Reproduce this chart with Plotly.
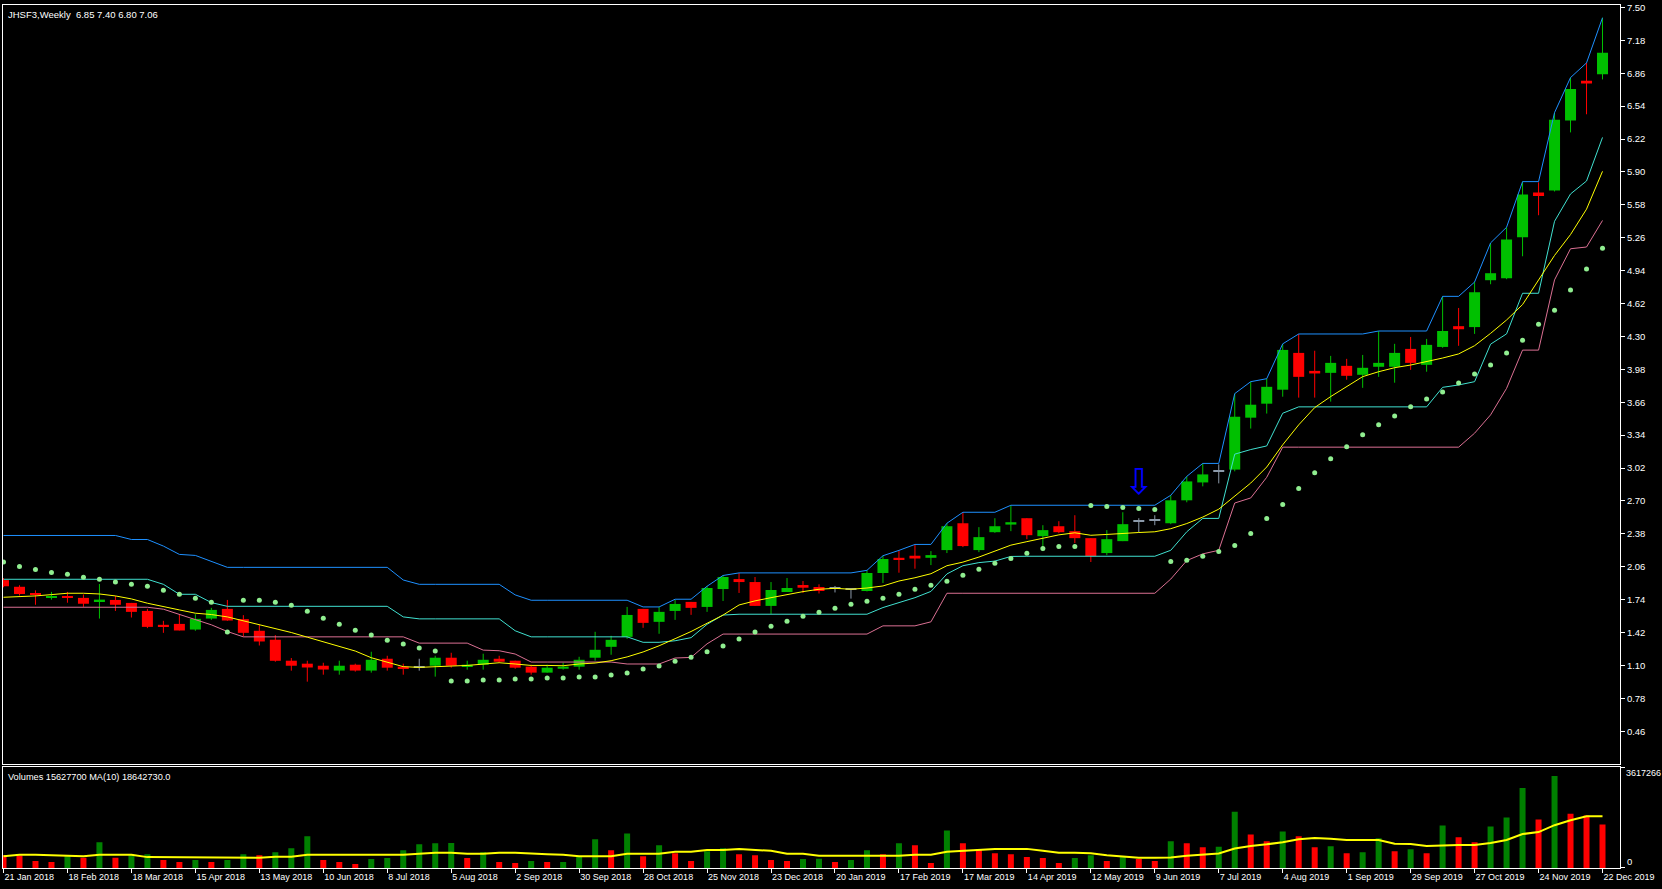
import plotly.graph_objects as go

# ---------------- data ----------------
symbol = "JHSF3"
period = "Weekly"

tick_dates = ["21 Jan 2018", "18 Feb 2018", "18 Mar 2018", "15 Apr 2018", "13 May 2018",
              "10 Jun 2018", "8 Jul 2018", "5 Aug 2018", "2 Sep 2018", "30 Sep 2018",
              "28 Oct 2018", "25 Nov 2018", "23 Dec 2018", "20 Jan 2019", "17 Feb 2019",
              "17 Mar 2019", "14 Apr 2019", "12 May 2019", "9 Jun 2019", "7 Jul 2019",
              "4 Aug 2019", "1 Sep 2019", "29 Sep 2019", "27 Oct 2019", "24 Nov 2019",
              "22 Dec 2019"]
bars_per_date_tick = 4

price_ticks = ["7.50", "7.18", "6.86", "6.54", "6.22", "5.90", "5.58", "5.26", "4.94", "4.62",
               "4.30", "3.98", "3.66", "3.34", "3.02", "2.70", "2.38", "2.06", "1.74", "1.42",
               "1.10", "0.78", "0.46"]

opens = [1.93, 1.865, 1.80, 1.76, 1.775, 1.757, 1.722, 1.737, 1.708, 1.63,
         1.495, 1.504, 1.449, 1.556, 1.65, 1.55, 1.437, 1.35, 1.146, 1.117,
         1.097, 1.05, 1.107, 1.05, 1.165, 1.088, 1.08, 1.097, 1.175, 1.09,
         1.107, 1.165, 1.146, 1.088, 1.03, 1.068, 1.088, 1.175, 1.281, 1.378,
         1.65, 1.524, 1.63, 1.718, 1.669, 1.843, 1.94, 1.911, 1.679, 1.814,
         1.882, 1.863, 1.844, 1.84, 1.824, 1.999, 2.147, 2.167, 2.147, 2.222,
         2.483, 2.222, 2.396, 2.47, 2.532, 2.357, 2.454, 2.406, 2.338, 2.193,
         2.309, 2.503, 2.513, 2.483, 2.706, 2.880, 2.988, 3.005, 3.510, 3.646,
         3.782, 4.14, 3.965, 3.946, 4.014, 3.927, 4.005, 4.005, 4.179, 4.024,
         4.198, 4.40, 4.391, 4.847, 4.866, 5.264, 5.70, 5.72, 6.401, 6.786,
         6.85]
highs = [1.95, 1.88, 1.83, 1.815, 1.815, 1.79, 1.892, 1.776, 1.708, 1.65,
         1.534, 1.598, 1.598, 1.66, 1.737, 1.589, 1.495, 1.395, 1.172, 1.146,
         1.126, 1.146, 1.117, 1.233, 1.194, 1.117, 1.165, 1.194, 1.223, 1.146,
         1.214, 1.194, 1.146, 1.107, 1.107, 1.126, 1.184, 1.427, 1.388, 1.669,
         1.65, 1.669, 1.737, 1.718, 1.873, 1.979, 1.999, 1.96, 1.911, 1.95,
         1.921, 1.889, 1.873, 1.84, 2.025, 2.167, 2.219, 2.277, 2.212, 2.483,
         2.59, 2.445, 2.532, 2.658, 2.532, 2.464, 2.503, 2.561, 2.338, 2.416,
         2.59, 2.532, 2.561, 2.755, 2.939, 3.065, 3.056, 3.744, 3.860, 3.889,
         4.228, 4.324, 4.161, 4.111, 4.082, 4.12, 4.353, 4.228, 4.295, 4.276,
         4.69, 4.577, 4.829, 5.207, 5.362, 5.806, 5.799, 6.477, 6.818, 6.961,
         7.40]
lows = [1.86, 1.78, 1.69, 1.74, 1.71, 1.67, 1.556, 1.63, 1.566, 1.463,
        1.417, 1.44, 1.437, 1.543, 1.534, 1.381, 1.294, 1.136, 1.049, 0.942,
        1.01, 1.01, 1.04, 1.03, 1.049, 1.01, 1.049, 0.991, 1.078, 1.059,
        1.059, 1.126, 1.068, 1.01, 1.03, 1.059, 1.059, 1.146, 1.204, 1.359,
        1.466, 1.408, 1.543, 1.592, 1.621, 1.727, 1.805, 1.679, 1.601, 1.814,
        1.805, 1.80, 1.81, 1.75, 1.82, 1.902, 2.002, 2.041, 2.076, 2.193,
        2.251, 2.202, 2.39, 2.406, 2.328, 2.212, 2.386, 2.290, 2.106, 2.173,
        2.309, 2.396, 2.464, 2.474, 2.687, 2.842, 2.871, 2.988, 3.404, 3.55,
        3.714, 3.705, 3.705, 3.666, 3.879, 3.80, 3.907, 3.85, 3.975, 3.957,
        4.19, 4.209, 4.325, 4.808, 4.857, 5.08, 5.479, 5.71, 6.285, 6.461,
        6.80]
closes = [1.87, 1.795, 1.79, 1.775, 1.757, 1.70, 1.740, 1.69, 1.621, 1.475,
          1.48, 1.44, 1.553, 1.64, 1.537, 1.417, 1.333, 1.145, 1.097, 1.08,
          1.06, 1.097, 1.05, 1.155, 1.078, 1.07, 1.08, 1.175, 1.097, 1.107,
          1.155, 1.136, 1.078, 1.03, 1.078, 1.088, 1.155, 1.252, 1.349, 1.591,
          1.514, 1.621, 1.698, 1.66, 1.853, 1.96, 1.911, 1.679, 1.834, 1.853,
          1.856, 1.824, 1.844, 1.84, 1.999, 2.135, 2.128, 2.14, 2.173, 2.454,
          2.261, 2.348, 2.454, 2.493, 2.367, 2.416, 2.396, 2.338, 2.163, 2.328,
          2.474, 2.503, 2.513, 2.706, 2.890, 2.958, 2.988, 3.519, 3.636, 3.81,
          4.169, 3.907, 3.94, 4.043, 3.917, 3.995, 4.043, 4.14, 4.043, 4.218,
          4.353, 4.37, 4.730, 4.915, 5.244, 5.681, 5.666, 6.408, 6.708, 6.76,
          7.06]

upper_band = [2.364, 2.364, 2.364, 2.364, 2.364, 2.364, 2.364, 2.364, 2.325, 2.325,
              2.261, 2.180, 2.170, 2.115, 2.054, 2.054, 2.054, 2.054, 2.054, 2.054,
              2.054, 2.054, 2.054, 2.054, 2.054, 1.931, 1.889, 1.889, 1.889, 1.889,
              1.889, 1.889, 1.786, 1.734, 1.734, 1.734, 1.734, 1.734, 1.734, 1.734,
              1.669, 1.669, 1.744, 1.744, 1.870, 1.975, 2.000, 2.000, 2.000, 2.000,
              2.000, 2.000, 2.000, 2.000, 2.025, 2.167, 2.219, 2.277, 2.277, 2.483,
              2.590, 2.590, 2.590, 2.658, 2.658, 2.658, 2.658, 2.658, 2.658, 2.658,
              2.658, 2.658, 2.658, 2.755, 2.939, 3.065, 3.065, 3.744, 3.860, 3.889,
              4.228, 4.324, 4.324, 4.324, 4.324, 4.324, 4.353, 4.353, 4.353, 4.353,
              4.690, 4.690, 4.829, 5.210, 5.362, 5.806, 5.806, 6.477, 6.818, 6.961,
              7.400]
middle_band = [1.938, 1.938, 1.938, 1.938, 1.938, 1.938, 1.938, 1.938, 1.938, 1.938,
               1.889, 1.792, 1.792, 1.711, 1.675, 1.675, 1.675, 1.675, 1.675, 1.675,
               1.675, 1.675, 1.675, 1.675, 1.675, 1.572, 1.553, 1.553, 1.553, 1.553,
               1.553, 1.553, 1.437, 1.378, 1.378, 1.378, 1.378, 1.378, 1.378, 1.378,
               1.325, 1.325, 1.340, 1.370, 1.500, 1.590, 1.598, 1.598, 1.598, 1.598,
               1.598, 1.598, 1.598, 1.598, 1.598, 1.663, 1.711, 1.759, 1.820, 1.990,
               2.070, 2.100, 2.115, 2.160, 2.162, 2.162, 2.162, 2.162, 2.162, 2.162,
               2.162, 2.162, 2.162, 2.220, 2.400, 2.530, 2.530, 3.155, 3.200, 3.235,
               3.553, 3.615, 3.615, 3.615, 3.615, 3.615, 3.615, 3.615, 3.615, 3.615,
               3.805, 3.828, 3.860, 4.225, 4.325, 4.720, 4.720, 5.420, 5.686, 5.812,
               6.236]
lower_band = [1.666, 1.666, 1.666, 1.666, 1.666, 1.666, 1.666, 1.666, 1.666, 1.666,
              1.647, 1.598, 1.550, 1.495, 1.430, 1.378, 1.378, 1.378, 1.378, 1.378,
              1.378, 1.378, 1.378, 1.378, 1.378, 1.378, 1.317, 1.317, 1.317, 1.317,
              1.249, 1.243, 1.211, 1.133, 1.133, 1.133, 1.133, 1.133, 1.133, 1.114,
              1.114, 1.114, 1.172, 1.178, 1.310, 1.405, 1.405, 1.405, 1.405, 1.405,
              1.405, 1.405, 1.405, 1.405, 1.405, 1.485, 1.485, 1.485, 1.524, 1.802,
              1.802, 1.802, 1.802, 1.802, 1.802, 1.802, 1.802, 1.802, 1.802, 1.802,
              1.802, 1.802, 1.802, 1.940, 2.120, 2.185, 2.220, 2.680, 2.729, 2.930,
              3.223, 3.223, 3.223, 3.223, 3.223, 3.223, 3.223, 3.223, 3.223, 3.223,
              3.223, 3.223, 3.359, 3.537, 3.795, 4.167, 4.167, 4.850, 5.153, 5.170,
              5.428]
moving_avg = [1.763, 1.766, 1.776, 1.789, 1.802, 1.802, 1.795, 1.776, 1.747, 1.705,
              1.669, 1.640, 1.608, 1.595, 1.572, 1.534, 1.492, 1.460, 1.420, 1.375,
              1.330, 1.285, 1.240, 1.175, 1.130, 1.088, 1.081, 1.091, 1.094, 1.100,
              1.110, 1.126, 1.114, 1.100, 1.100, 1.097, 1.114, 1.123, 1.146, 1.183,
              1.231, 1.291, 1.360, 1.430, 1.510, 1.590, 1.688, 1.728, 1.759, 1.792,
              1.818, 1.841, 1.850, 1.841, 1.853, 1.873, 1.921, 1.953, 1.992, 2.070,
              2.105, 2.154, 2.215, 2.270, 2.304, 2.340, 2.370, 2.390, 2.366, 2.374,
              2.386, 2.393, 2.400, 2.430, 2.480, 2.543, 2.620, 2.750, 2.874, 3.030,
              3.246, 3.440, 3.608, 3.715, 3.812, 3.909, 3.957, 3.996, 4.022, 4.054,
              4.090, 4.130, 4.210, 4.330, 4.460, 4.610, 4.846, 5.088, 5.291, 5.538,
              5.906]
psar = [2.105, 2.063, 2.034, 2.005, 1.986, 1.957, 1.938, 1.911, 1.889, 1.870,
        1.831, 1.792, 1.753, 1.714, 1.424, 1.734, 1.734, 1.714, 1.686, 1.627,
        1.560, 1.501, 1.443, 1.395, 1.346, 1.308, 1.269, 1.240, 0.949, 0.949,
        0.959, 0.959, 0.968, 0.968, 0.978, 0.978, 0.988, 0.988, 1.007, 1.027,
        1.065, 1.094, 1.140, 1.180, 1.232, 1.288, 1.356, 1.424, 1.482, 1.530,
        1.579, 1.618, 1.657, 1.695, 1.724, 1.753, 1.792, 1.841, 1.880, 1.918,
        1.977, 2.035, 2.093, 2.141, 2.190, 2.238, 2.258, 2.258, 2.655, 2.645,
        2.636, 2.626, 2.616, 2.112, 2.122, 2.161, 2.209, 2.267, 2.383, 2.529,
        2.665, 2.820, 2.975, 3.111, 3.227, 3.343, 3.440, 3.527, 3.615, 3.692,
        3.760, 3.847, 3.935, 4.022, 4.138, 4.264, 4.419, 4.555, 4.752, 4.955,
        5.159]

# volumes in millions of shares
volume_m = [4.6, 4.5, 2.49, 2.13, 4.26, 3.67, 9.24, 3.67, 4.62, 4.97,
            2.84, 2.13, 2.84, 2.13, 2.84, 4.97, 4.62, 5.68, 7.10, 11.37,
            2.84, 2.13, 1.42, 3.20, 3.55, 6.39, 8.52, 8.88, 8.95, 3.55,
            5.68, 2.13, 1.78, 2.49, 2.13, 2.20, 4.26, 10.30, 6.39, 12.43,
            4.26, 8.17, 5.33, 2.49, 6.04, 7.10, 4.97, 4.62, 2.84, 2.49,
            3.20, 3.30, 2.13, 2.84, 6.39, 4.97, 8.88, 8.17, 1.78, 13.50,
            8.88, 6.75, 5.33, 4.97, 3.91, 3.55, 1.78, 3.55, 4.62, 2.49,
            4.26, 3.20, 2.49, 9.59, 8.88, 7.46, 7.60, 20.25, 12.08, 9.59,
            13.14, 11.37, 7.46, 7.81, 5.33, 5.68, 10.66, 6.04, 6.75, 5.33,
            15.27, 11.01, 9.24, 14.92, 18.12, 28.77, 17.40, 33.03, 19.54, 18.83,
            15.6277]
volume_ma_m = [4.26, 4.74, 4.74, 4.60, 4.26, 4.26, 4.74, 4.74, 4.74, 3.91,
               3.91, 3.91, 3.91, 3.91, 3.91, 3.67, 3.67, 4.03, 4.03, 4.74,
               4.74, 4.74, 4.74, 4.74, 4.74, 4.74, 5.09, 5.45, 5.45, 5.09,
               5.09, 5.45, 5.45, 5.09, 4.90, 4.74, 4.26, 4.26, 4.26, 5.09,
               5.09, 5.09, 5.80, 5.80, 6.51, 6.51, 6.87, 6.51, 6.16, 5.09,
               5.09, 4.38, 4.38, 4.38, 4.38, 4.38, 4.38, 4.74, 4.74, 5.80,
               6.16, 6.51, 6.87, 6.87, 6.87, 6.16, 5.45, 5.45, 5.30, 4.62,
               4.03, 3.67, 3.67, 3.79, 4.38, 4.74, 5.21, 6.99, 7.93, 8.52,
               9.24, 10.30, 10.77, 10.54, 10.06, 10.06, 10.06, 8.76, 8.64, 7.93,
               8.17, 8.29, 8.29, 9.00, 10.06, 12.20, 12.91, 15.39, 17.17, 18.59,
               18.64273]
volume_ma_period = 10
volume_axis_top = 36172660
volume_axis_label = "3617266"

signal_bar = 71
signal_price = 2.89

# ---------------- styling ----------------
BULL = "#00C000"
BEAR = "#FF0000"
DOJI = "#8C9AAA"
VOL_UP = "#008000"
VOL_DOWN = "#FF0000"
FONT = "Liberation Sans"
TXT = 9.5
DATE_TXT = 9
VOL_TXT = 9.2

n = len(closes)
bars = list(range(n))

candle_color = []
for o, c in zip(opens, closes):
    candle_color.append(BULL if c > o else (BEAR if c < o else DOJI))
body_base = [min(o, c) for o, c in zip(opens, closes)]
body_len = [max(abs(c - o), 0.0097) for o, c in zip(opens, closes)]

vol = [v * 1e6 for v in volume_m]
vol_ma = [v * 1e6 for v in volume_ma_m]
vol_color = [VOL_DOWN if i == 0 or vol[i] <= vol[i - 1] else VOL_UP for i in bars]

fig = go.Figure()

# wicks
for col in (BULL, BEAR, DOJI):
    xs, ys = [], []
    for i in bars:
        if candle_color[i] == col:
            xs += [i, i, None]
            ys += [lows[i], highs[i], None]
    fig.add_trace(go.Scatter(x=xs, y=ys, mode="lines", line=dict(color=col, width=1),
                             hoverinfo="skip", xaxis="x", yaxis="y"))

# bodies
fig.add_trace(go.Bar(x=bars, y=body_len, base=body_base, width=0.6875,
                     marker=dict(color=candle_color, line=dict(width=0)),
                     hoverinfo="skip", xaxis="x", yaxis="y"))

# indicator lines
for series, col in ((upper_band, "#1E90FF"), (middle_band, "#40E0D0"),
                    (lower_band, "#DB7093"), (moving_avg, "#FFFF00")):
    fig.add_trace(go.Scatter(x=bars, y=series, mode="lines", line=dict(color=col, width=1),
                             hoverinfo="skip", xaxis="x", yaxis="y"))

# parabolic SAR
fig.add_trace(go.Scatter(x=bars, y=psar, mode="markers",
                         marker=dict(color="#90EE90", size=5, line=dict(width=0)),
                         hoverinfo="skip", xaxis="x", yaxis="y"))

# volume
fig.add_trace(go.Bar(x=bars, y=vol, width=0.375, marker=dict(color=vol_color, line=dict(width=0)),
                     hoverinfo="skip", xaxis="x2", yaxis="y2"))
fig.add_trace(go.Scatter(x=bars, y=vol_ma, mode="lines", line=dict(color="#FFFF00", width=2),
                         hoverinfo="skip", xaxis="x2", yaxis="y2"))

# ---------------- layout ----------------
W, H = 1662, 889
ml, mr, mt, mb = 2, 42, 2, 21
plot_h = H - mt - mb
main_bottom_px = 764
vol_top_px = 767
main_dom0 = (H - mb - main_bottom_px) / plot_h
vol_dom1 = (H - mb - vol_top_px) / plot_h

bar_px = 16.0
xmin = -0.03125
xmax = xmin + (W - ml - mr) / bar_px

axis_common = dict(showgrid=False, zeroline=False, showline=True, mirror=True,
                   linecolor="white", linewidth=1)

date_ticks = [k * bars_per_date_tick for k in range(len(tick_dates))]

fig.update_layout(
    width=W, height=H,
    margin=dict(l=ml, r=mr, t=mt, b=mb, pad=0),
    paper_bgcolor="black", plot_bgcolor="black",
    showlegend=False, barmode="overlay",
    font=dict(family=FONT, size=TXT, color="white"),
    xaxis=dict(domain=[0, 1], anchor="y", range=[xmin, xmax], showticklabels=False,
               ticks="", **axis_common),
    yaxis=dict(domain=[main_dom0, 1], anchor="x", range=[0.1377, 7.524], side="right",
               tickmode="array", tickvals=[float(t) for t in price_ticks], ticktext=price_ticks,
               ticks="outside", ticklen=4, tickcolor="white", tickwidth=1,
               ticklabeloverflow="allow",
               tickfont=dict(family=FONT, size=TXT, color="white"), **axis_common),
    xaxis2=dict(domain=[0, 1], anchor="y2", range=[xmin, xmax],
                tickmode="array", tickvals=date_ticks, ticktext=tick_dates,
                ticks="outside", ticklen=4, tickcolor="white", tickwidth=1,
                ticklabelposition="outside right", tickangle=0, ticklabeloverflow="allow",
                tickfont=dict(family=FONT, size=DATE_TXT, color="white"), **axis_common),
    yaxis2=dict(domain=[0, vol_dom1], anchor="x2", range=[0, volume_axis_top], side="right",
                tickmode="array", tickvals=[0, volume_axis_top], ticks="outside", ticklen=4,
                tickcolor="white", showticklabels=False, **axis_common),
)

title_txt = f"{symbol},{period}\u00a0\u00a0{opens[-1]:.2f} {highs[-1]:.2f} {lows[-1]:.2f} {closes[-1]:.2f}"
vol_txt = f"Volumes {round(vol[-1])} MA({volume_ma_period}) {round(vol_ma[-1], 1):.1f}"

annotations = [
    dict(text=title_txt, xref="paper", yref="paper", x=0, y=1, xanchor="left", yanchor="top",
         xshift=3, yshift=-2, showarrow=False, font=dict(family=FONT, size=TXT, color="white")),
    dict(text=vol_txt, xref="paper", yref="paper", x=0, y=vol_dom1, xanchor="left", yanchor="top",
         xshift=3, yshift=-3, showarrow=False, font=dict(family=FONT, size=VOL_TXT, color="white")),
    dict(text=volume_axis_label, xref="paper", yref="paper", x=1, y=vol_dom1, xanchor="left",
         yanchor="top", xshift=4, yshift=1, showarrow=False,
         font=dict(family=FONT, size=9, color="white")),
    dict(text="0", xref="paper", yref="paper", x=1, y=0, xanchor="left", yanchor="bottom",
         xshift=5, yshift=-1, showarrow=False, font=dict(family=FONT, size=TXT, color="white")),
    dict(text="\u21e9", xref="x", yref="y", x=signal_bar, y=signal_price, xanchor="center",
         yanchor="middle", showarrow=False, font=dict(family="DejaVu Sans", size=36, color="#0000FF")),
]
fig.update_layout(annotations=annotations)

page_js = ("document.body.style.margin='0';document.body.style.padding='0';"
           "document.body.style.overflow='hidden';"
           "document.documentElement.style.overflow='hidden';")
fig.write_html("out.html", post_script=page_js, config={"displayModeBar": False})
